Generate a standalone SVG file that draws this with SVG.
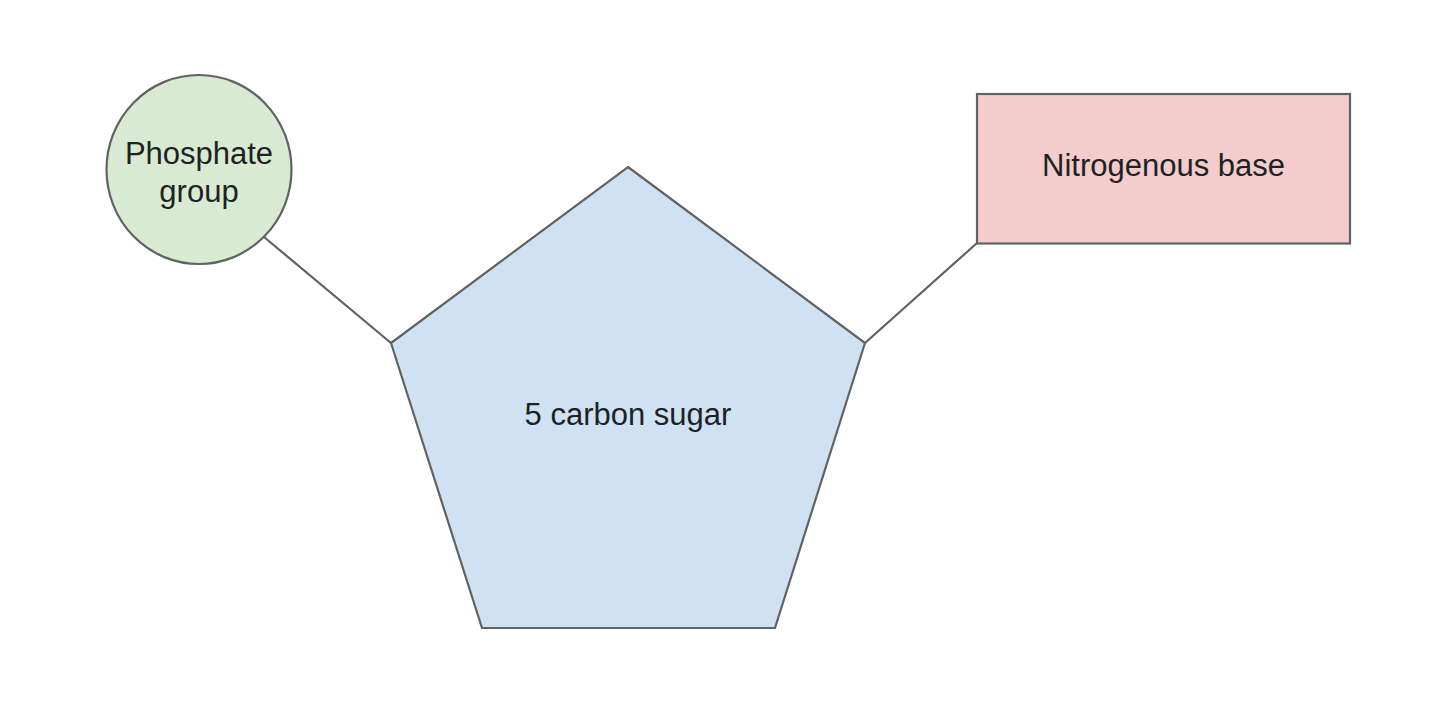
<svg xmlns="http://www.w3.org/2000/svg" width="1440" height="711" viewBox="0 0 1440 711">
<style>
.s{stroke:#5f6361;stroke-width:2.2}
text{font-family:"Liberation Sans",Arial,sans-serif;font-size:31px;fill:#1d2324;text-anchor:middle}
</style>
<rect width="1440" height="711" fill="#ffffff"/>
<g id="connectors" class="s" fill="none">
<line x1="264" y1="237" x2="391" y2="343"/>
<line x1="865" y1="343" x2="977" y2="243"/>
</g>
<g id="phosphate">
<ellipse class="s" cx="199" cy="169.500" rx="92.500" ry="94.500" fill="#d9ead3"/>
<text x="199" y="164">Phosphate</text>
<text x="199" y="202">group</text>
</g>
<g id="sugar">
<polygon class="s" points="628,167 865,343 775,628 482,628 391,343" fill="#cfe2f3"/>
<text x="628" y="425">5 carbon sugar</text>
</g>
<g id="base">
<rect class="s" x="977" y="94" width="373" height="149.500" fill="#f4cccc"/>
<text x="1163.500" y="176">Nitrogenous base</text>
</g>
</svg>
